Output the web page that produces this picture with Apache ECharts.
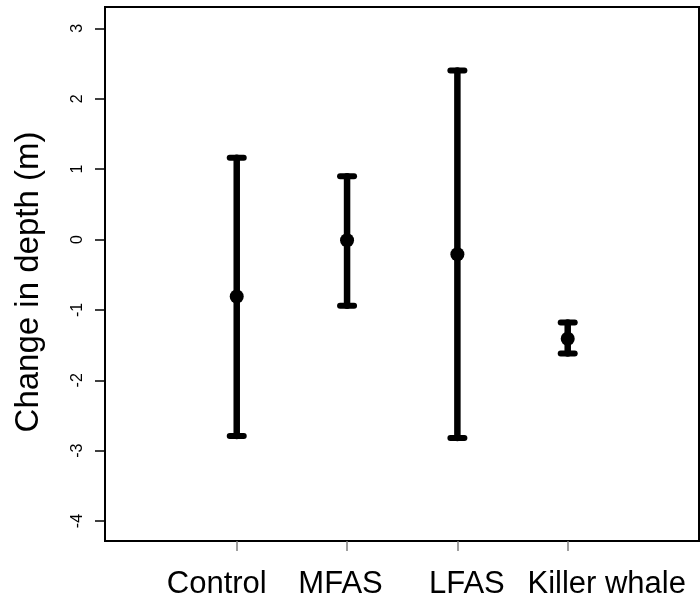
<!DOCTYPE html>
<html>
<head>
<meta charset="utf-8">
<script src="https://cdn.jsdelivr.net/npm/echarts@6/dist/echarts.min.js"></script>
<style>
  html, body { margin: 0; padding: 0; background: #fff; }
  #chart { width: 700px; height: 599px; }
</style>
</head>
<body>
<div id="chart"></div>
<script>
// Groups and their mean change in depth with interval bounds (m)
var groups = ['Control', 'MFAS', 'LFAS', 'Killer whale'];
var means = [-0.81, -0.01, -0.21, -1.41];
var upper = [1.16, 0.90, 2.40, -1.18];
var lower = [-2.79, -0.94, -2.82, -1.62];
var yTicks = [-4, -3, -2, -1, 0, 1, 2, 3];
var yTitle = 'Change in depth (m)';

var positions = groups.map(function (g, i) { return i + 1; });
var barData = groups.map(function (g, i) { return [positions[i], lower[i], upper[i]]; });
var pointData = groups.map(function (g, i) { return [positions[i], means[i]]; });

// Horizontal nudges of the group labels under the axis
var labelPad = [[0, 40, 0, 0], [0, 13, 0, 0], [0, 0, 0, 19], [0, 0, 0, 78]];
var rich = {};
groups.forEach(function (g, i) {
  rich['g' + i] = { fontSize: 31, fontFamily: 'Liberation Sans, Arial, sans-serif', color: '#000', padding: labelPad[i] };
});

var chart = echarts.init(document.getElementById('chart'));
chart.setOption({
  animation: false,
  backgroundColor: '#fff',
  grid: {
    left: 105, right: 1, top: 7, bottom: 58,
    outerBoundsMode: 'none',
    containLabel: false,
    show: true, borderColor: '#000', borderWidth: 2, backgroundColor: 'transparent'
  },
  xAxis: {
    type: 'value',
    min: -0.194, max: 5.19,
    axisLine: { show: false, onZero: false },
    splitLine: { show: false },
    axisTick: {
      show: true, length: 10, inside: false,
      customValues: positions,
      lineStyle: { color: '#808080', width: 1.5 }
    },
    axisLabel: {
      show: true, margin: 28,
      customValues: positions,
      formatter: function (v) {
        var i = Math.round(v) - 1;
        return '{g' + i + '|' + groups[i] + '}';
      },
      rich: rich
    }
  },
  yAxis: {
    type: 'value',
    min: -4.283, max: 3.303,
    axisLine: { show: false, onZero: false },
    splitLine: { show: false },
    axisTick: {
      show: true, length: 10, inside: false,
      customValues: yTicks,
      lineStyle: { color: '#000', width: 1.5 }
    },
    axisLabel: {
      show: true, rotate: 90, margin: 19,
      customValues: yTicks,
      fontSize: 16, color: '#000',
      fontFamily: 'Liberation Sans, Arial, sans-serif'
    },
    name: yTitle,
    nameLocation: 'middle',
    nameRotate: 90,
    nameGap: 60,
    nameTextStyle: {
      fontSize: 33, color: '#000',
      fontFamily: 'Liberation Sans, Arial, sans-serif',
      padding: [0, 16, 0, 0]
    }
  },
  series: [
    {
      type: 'custom',
      data: barData,
      encode: { x: 0, y: [1, 2] },
      renderItem: function (params, api) {
        var x = api.value(0);
        var lo = api.coord([x, api.value(1)]);
        var hi = api.coord([x, api.value(2)]);
        var half = 7;
        var style = { stroke: '#000', lineWidth: 6.5, lineCap: 'round' };
        var capStyle = { stroke: '#000', lineWidth: 6, lineCap: 'round' };
        return {
          type: 'group',
          children: [
            { type: 'line', shape: { x1: hi[0], y1: hi[1], x2: lo[0], y2: lo[1] }, style: style },
            { type: 'line', shape: { x1: hi[0] - half, y1: hi[1], x2: hi[0] + half, y2: hi[1] }, style: capStyle },
            { type: 'line', shape: { x1: lo[0] - half, y1: lo[1], x2: lo[0] + half, y2: lo[1] }, style: capStyle }
          ]
        };
      },
      z: 2
    },
    {
      type: 'scatter',
      data: pointData,
      symbol: 'circle',
      symbolSize: 14,
      itemStyle: { color: '#000', opacity: 1 },
      z: 3
    }
  ]
});
</script>
</body>
</html>
